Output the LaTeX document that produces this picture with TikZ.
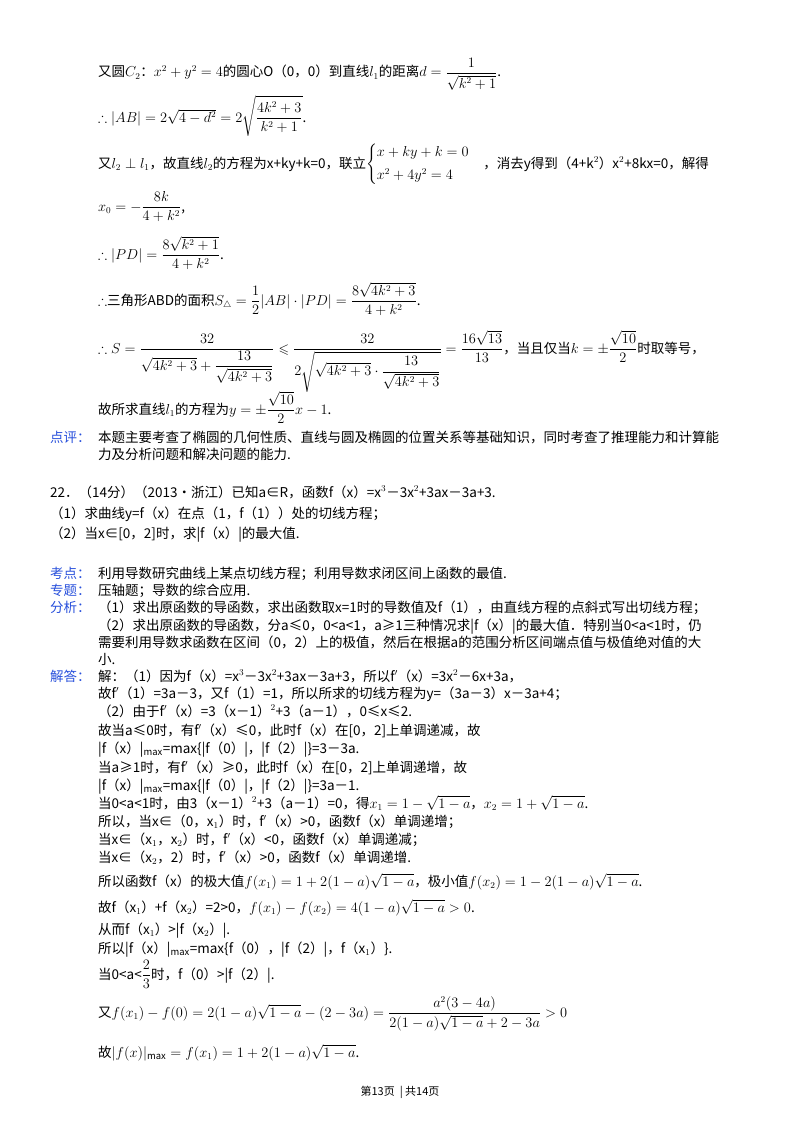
\documentclass[tikz,border=0pt]{standalone}
\usepackage{amsmath,amssymb}
\usepackage{fontspec}
\setmainfont{Noto Sans CJK SC}
\definecolor{lab}{RGB}{40,80,220}
\begin{document}
\begin{tikzpicture}[x=1pt,y=-1pt,
 ln/.style={anchor=base west,inner sep=0pt,font=\fontsize{13.5}{16}\selectfont},
 lb/.style={ln,text=lab}]
\useasboundingbox (0,0) rectangle (800,1132);
\fill[white] (0,0) rectangle (800,1132);
\node[ln] (a1) at (98,77) {又圆$C_2$：$x^2+y^2=4$的圆心O（0，0）到直线$l_1$的距离$d=\dfrac{1}{\sqrt{k^2+1}}$.};
\node[ln] (a2) at (98,122) {$\therefore|AB|=2\sqrt{4-d^2}=2\sqrt{\dfrac{4k^2+3}{k^2+1}}$.};
\node[ln] (a3) at (98,168) {又$l_2\perp l_1$，故直线$l_2$的方程为x+ky+k=0，联立$\begin{cases}x+ky+k=0\\[4pt] x^2+4y^2=4\end{cases}$，消去y得到（4+k$^2$）x$^2$+8kx=0，解得};
\node[ln] (a4) at (98,211) {$x_0=-\dfrac{8k}{4+k^2}$,};
\node[ln] (a5) at (98,259) {$\therefore|PD|=\dfrac{8\sqrt{k^2+1}}{4+k^2}$.};
\node[ln] (a6) at (98,305) {$\therefore$三角形ABD的面积$S_\triangle=\dfrac12|AB|\cdot|PD|=\dfrac{8\sqrt{4k^2+3}}{4+k^2}$.};
\node[ln] (a7) at (98,353) {$\therefore S=\dfrac{32}{\sqrt{4k^2+3}+\dfrac{13}{\sqrt{4k^2+3}}}\leqslant\dfrac{32}{2\sqrt{\sqrt{4k^2+3}\cdot\dfrac{13}{\sqrt{4k^2+3}}}}=\dfrac{16\sqrt{13}}{13}$，当且仅当$k=\pm\dfrac{\sqrt{10}}{2}$时取等号，};
\node[ln] (a8) at (98,414) {故所求直线$l_1$的方程为$y=\pm\dfrac{\sqrt{10}}{2}x-1$.};
\node[lb] (p0) at (50,442) {点评：};
\node[ln] (p1) at (98,442) {本题主要考查了椭圆的几何性质、直线与圆及椭圆的位置关系等基础知识，同时考查了推理能力和计算能};
\node[ln] (p2) at (98,459) {力及分析问题和解决问题的能力.};
\node[ln] (q0) at (50,497) {22．（14分）（2013•浙江）已知a∈R，函数f（x）=x$^3$－3x$^2$+3ax－3a+3.};
\node[ln] (q1) at (50,518) {（1）求曲线y=f（x）在点（1，f（1））处的切线方程；};
\node[ln] (q2) at (50,538) {（2）当x∈[0，2]时，求|f（x）|的最大值.};
\node[lb] (k0) at (50,578) {考点：};
\node[ln] (k1) at (98,578) {利用导数研究曲线上某点切线方程；利用导数求闭区间上函数的最值.};
\node[lb] (z0) at (50,595) {专题：};
\node[ln] (z1) at (98,595) {压轴题；导数的综合应用.};
\node[lb] (f0) at (50,612) {分析：};
\node[ln] (f1) at (98,612) {（1）求出原函数的导函数，求出函数取x=1时的导数值及f（1），由直线方程的点斜式写出切线方程；};
\node[ln] (f2) at (98,630) {（2）求出原函数的导函数，分a≤0，0<a<1，a≥1三种情况求|f（x）|的最大值．特别当0<a<1时，仍};
\node[ln] (f3) at (98,647) {需要利用导数求函数在区间（0，2）上的极值，然后在根据a的范围分析区间端点值与极值绝对值的大};
\node[ln] (f4) at (98,664) {小.};
\node[lb] (j0) at (50,681) {解答：};
\node[ln] (j1) at (98,681) {解：（1）因为f（x）=x$^3$－3x$^2$+3ax－3a+3，所以f$'$（x）=3x$^2$－6x+3a，};
\node[ln] (j2) at (98,698) {故f$'$（1）=3a－3，又f（1）=1，所以所求的切线方程为y=（3a－3）x－3a+4；};
\node[ln] (j3) at (98,716) {（2）由于f$'$（x）=3（x－1）$^2$+3（a－1），0≤x≤2.};
\node[ln] (j4) at (98,735) {故当a≤0时，有f$'$（x）≤0，此时f（x）在[0，2]上单调递减，故};
\node[ln] (j5) at (98,753) {|f（x）|$_{\max}$=max\{|f（0）|，|f（2）|\}=3－3a.};
\node[ln] (j6) at (98,772) {当a≥1时，有f$'$（x）≥0，此时f（x）在[0，2]上单调递增，故};
\node[ln] (j7) at (98,790) {|f（x）|$_{\max}$=max\{|f（0）|，|f（2）|\}=3a－1.};
\node[ln] (j8) at (98,808) {当0<a<1时，由3（x－1）$^2$+3（a－1）=0，得$x_1=1-\sqrt{1-a}$，$x_2=1+\sqrt{1-a}$.};
\node[ln] (j9) at (98,826) {所以，当x∈（0，x$_1$）时，f$'$（x）>0，函数f（x）单调递增；};
\node[ln] (j10) at (98,844) {当x∈（x$_1$，x$_2$）时，f$'$（x）<0，函数f（x）单调递减；};
\node[ln] (j11) at (98,862) {当x∈（x$_2$，2）时，f$'$（x）>0，函数f（x）单调递增.};
\node[ln] (j12) at (98,886) {所以函数f（x）的极大值$f(x_1)=1+2(1-a)\sqrt{1-a}$，极小值$f(x_2)=1-2(1-a)\sqrt{1-a}$.};
\node[ln] (j13) at (98,912) {故f（x$_1$）+f（x$_2$）=2>0，$f(x_1)-f(x_2)=4(1-a)\sqrt{1-a}>0$.};
\node[ln] (j14) at (98,934) {从而f（x$_1$）>|f（x$_2$）|.};
\node[ln] (j15) at (98,953) {所以|f（x）|$_{\max}$=max\{f（0），|f（2）|，f（x$_1$）\}.};
\node[ln] (j16) at (98,979) {当0<a<$\dfrac23$时，f（0）>|f（2）|.};
\node[ln] (j17) at (98,1017) {又$f(x_1)-f(0)=2(1-a)\sqrt{1-a}-(2-3a)=\dfrac{a^2(3-4a)}{2(1-a)\sqrt{1-a}+2-3a}>0$};
\node[ln] (j18) at (98,1057) {故$|f(x)|_{\max}=f(x_1)=1+2(1-a)\sqrt{1-a}$.};
\node[ln,anchor=base] (ft) at (400,1095) {\fontsize{11}{13}\selectfont 第13页\ \ |\ 共14页};
\end{tikzpicture}
\end{document}
